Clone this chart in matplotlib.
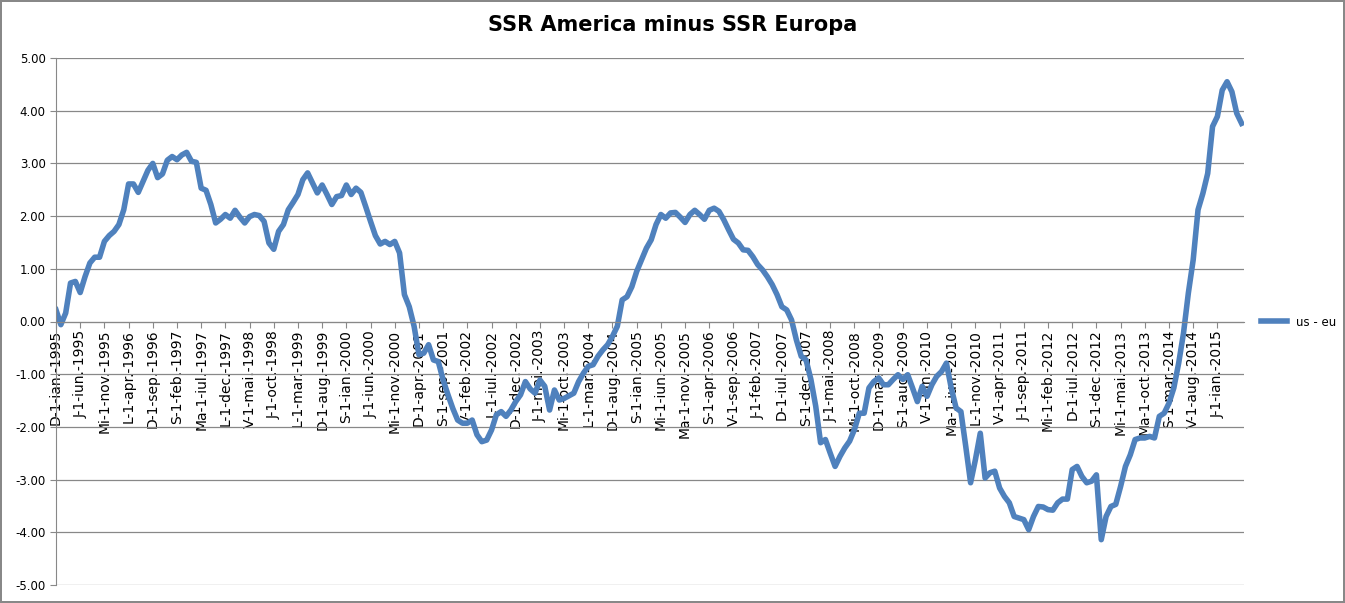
import matplotlib
matplotlib.use("Agg")
import matplotlib.pyplot as plt

values = [
0.22,-0.06,0.16,0.73,0.76,0.55,0.85,1.11,1.22,1.22,1.52,1.63,1.71,1.84,2.12,2.61,2.61,2.45,2.66,2.87,
3.00,2.73,2.80,3.06,3.13,3.07,3.16,3.21,3.04,3.02,2.53,2.49,2.22,1.87,1.94,2.03,1.96,2.11,1.98,1.87,
1.99,2.03,2.01,1.90,1.49,1.37,1.71,1.84,2.12,2.26,2.41,2.69,2.82,2.63,2.44,2.59,2.41,2.22,2.37,2.39,
2.59,2.41,2.53,2.45,2.18,1.90,1.63,1.47,1.52,1.46,1.52,1.30,
0.51,0.28,-0.09,-0.63,-0.60,-0.44,-0.73,-0.76,-1.11,-1.39,-1.65,-1.87,-1.93,-1.93,-1.87,-2.15,-2.28,-2.25,
-2.06,-1.77,-1.71,-1.80,-1.68,-1.52,-1.39,-1.14,-1.28,-1.36,-1.11,-1.23,-1.68,-1.30,-1.49,-1.46,-1.41,-1.36,
-1.14,-0.98,-0.85,-0.82,-0.66,-0.54,-0.44,-0.28,-0.09,0.41,0.47,0.66,0.95,1.17,1.39,1.55,1.84,2.03,
1.96,2.06,2.07,1.98,1.88,2.03,2.11,2.03,1.94,2.11,2.15,2.09,1.93,1.74,1.56,1.49,1.36,1.35,1.23,1.08,
0.98,0.85,0.70,0.51,0.28,0.22,0.03,-0.35,-0.66,
-0.73,-1.10,-1.61,-2.30,-2.24,-2.50,-2.75,-2.56,-2.40,-2.27,-2.05,-1.74,-1.74,-1.26,-1.14,-1.07,-1.20,-1.20,
-1.10,-1.01,-1.10,-1.01,-1.26,-1.52,-1.23,-1.42,-1.20,-1.04,-0.95,-0.79,-1.26,-1.64,-1.71,-2.37,-3.06,-2.62,
-2.12,-2.97,-2.87,-2.84,-3.16,-3.32,-3.44,-3.70,-3.73,-3.76,-3.95,-3.70,-3.51,-3.52,-3.57,-3.58,-3.44,-3.37,
-3.37,-2.81,-2.75,-2.94,-3.06,-3.03,-2.91,-4.14,-3.70,-3.51,-3.47,-3.13,-2.75,-2.53,-2.24,-2.21,-2.21,-2.18,
-2.21,-1.80,-1.74,-1.55,-1.26,-0.79,-0.22,0.54,1.17,2.12,2.43,2.81,3.70,3.89,4.39,4.55,4.36,3.95,3.76,
]

tick_labels = [
"D-1-ian.-1995","J-1-iun.-1995","Mi-1-nov.-1995","L-1-apr.-1996","D-1-sep.-1996","S-1-feb.-1997",
"Ma-1-iul.-1997","L-1-dec.-1997","V-1-mai.-1998","J-1-oct.-1998","L-1-mar.-1999","D-1-aug.-1999",
"S-1-ian.-2000","J-1-iun.-2000","Mi-1-nov.-2000","D-1-apr.-2001","S-1-sep.-2001","V-1-feb.-2002",
"L-1-iul.-2002","D-1-dec.-2002","J-1-mai.-2003","Mi-1-oct.-2003","L-1-mar.-2004","D-1-aug.-2004",
"S-1-ian.-2005","Mi-1-iun.-2005","Ma-1-nov.-2005","S-1-apr.-2006","V-1-sep.-2006","J-1-feb.-2007",
"D-1-iul.-2007","S-1-dec.-2007","J-1-mai.-2008","Mi-1-oct.-2008","D-1-mar.-2009","S-1-aug.-2009",
"V-1-ian.-2010","Ma-1-iun.-2010","L-1-nov.-2010","V-1-apr.-2011","J-1-sep.-2011","Mi-1-feb.-2012",
"D-1-iul.-2012","S-1-dec.-2012","Mi-1-mai.-2013","Ma-1-oct.-2013","S-1-mar.-2014","V-1-aug.-2014",
"J-1-ian.-2015",
]
series_name = "us - eu"
title = "SSR America minus SSR Europa"

fig = plt.figure(figsize=(13.45, 6.03), dpi=100)
fig.patch.set_edgecolor("#888888")
fig.patch.set_linewidth(1.5)
ax = fig.add_axes([56/1345, 1-585/603, (1244-56)/1345, (585-58)/603])

x = list(range(len(values)))
ax.plot(x, values, color="#4F81BD", lw=4, solid_joinstyle="round", label=series_name)
ax.set_xlim(0, len(values) - 0.5)
ax.set_ylim(-5, 5)
ax.set_yticks([-5, -4, -3, -2, -1, 0, 1, 2, 3, 4, 5])
ax.set_yticklabels([f"{v:.2f}" for v in range(-5, 6)], fontsize=8.5)
ax.yaxis.grid(True, color="#888888", lw=0.9)
ax.set_axisbelow(True)
ax.set_xticks([5 * i for i in range(len(tick_labels))])
ax.set_xticklabels(tick_labels, fontsize=8.5)
ax.tick_params(axis="x", length=4, color="#888888", pad=2, labelrotation=90)
ax.tick_params(axis="y", length=4, color="#888888")
for s in ["top", "right"]:
    ax.spines[s].set_visible(False)
ax.spines["bottom"].set_position(("data", 0))
ax.spines["bottom"].set_color("#888888")
ax.spines["left"].set_color("#888888")
for t in ax.get_xticklabels():
    t.set_rotation(90)
    t.set_va("top")
    t.set_ha("center")

fig.suptitle(title, fontsize=15, fontweight="bold", y=0.975)
fig.legend(loc="center left", bbox_to_anchor=(1250/1345, 1-322/603), frameon=False, fontsize=8.5,
           handlelength=2.2)
fig.savefig("out.png", dpi=100, edgecolor=fig.get_edgecolor())
